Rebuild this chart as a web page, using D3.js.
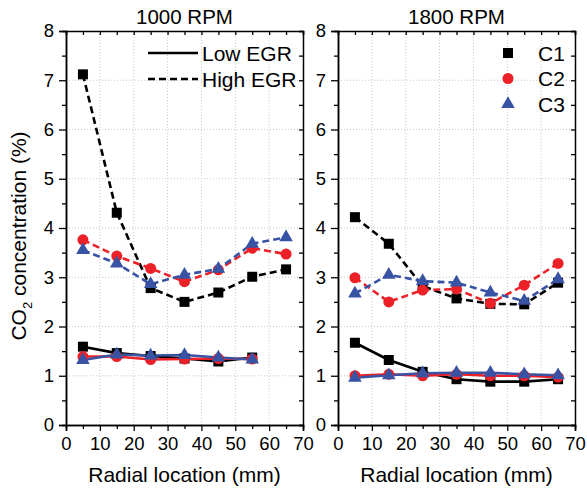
<!DOCTYPE html>
<meta charset="utf-8">
<script src="https://d3js.org/d3.v7.min.js"></script>
<style>
  body { margin: 0; background: #fff; }
  text { font-family: "Liberation Sans", Arial, sans-serif; fill: #000; }
</style>
<div id="chart"></div>
<script>

// radial positions (mm)
const radial = [5, 15, 25, 35, 45, 55, 65];

// 1000 RPM
const rpm1000_high_C1 = [7.12, 4.31, 2.78, 2.50, 2.69, 3.01, 3.16];
const rpm1000_high_C2 = [3.76, 3.43, 3.18, 2.91, 3.15, 3.59, 3.47];
const rpm1000_high_C3 = [3.55, 3.28, 2.86, 3.05, 3.17, 3.68, 3.81];
const rpm1000_low_C1 = [1.59, 1.46, 1.40, 1.35, 1.29, 1.37];
const rpm1000_low_C2 = [1.39, 1.39, 1.33, 1.34, 1.35, 1.34];
const rpm1000_low_C3 = [1.32, 1.43, 1.41, 1.42, 1.37, 1.33];

// 1800 RPM
const rpm1800_high_C1 = [4.22, 3.68, 2.82, 2.57, 2.46, 2.45, 2.89];
const rpm1800_high_C2 = [2.99, 2.50, 2.74, 2.76, 2.47, 2.84, 3.28];
const rpm1800_high_C3 = [2.67, 3.05, 2.92, 2.89, 2.69, 2.52, 2.96];
const rpm1800_low_C1 = [1.67, 1.32, 1.08, 0.93, 0.88, 0.88, 0.93];
const rpm1800_low_C2 = [1.00, 1.03, 1.00, 1.03, 1.00, 1.00, 0.97];
const rpm1800_low_C3 = [0.96, 1.01, 1.05, 1.06, 1.06, 1.03, 1.01];

const panelTitles = ["1000 RPM", "1800 RPM"];
const seriesNames = ["C1", "C2", "C3"];
const egrNames = ["Low EGR", "High EGR"];
const xTicks = [0, 10, 20, 30, 40, 50, 60, 70];
const yTicks = [0, 1, 2, 3, 4, 5, 6, 7, 8];

const colors = {C1: "#000000", C2: "#ec2027", C3: "#3953a4"};

const panels = [
  {title: panelTitles[0], left: 66, data: [
    {s: "C1", egr: "Low", v: rpm1000_low_C1},
    {s: "C2", egr: "Low", v: rpm1000_low_C2},
    {s: "C3", egr: "Low", v: rpm1000_low_C3},
    {s: "C1", egr: "High", v: rpm1000_high_C1},
    {s: "C2", egr: "High", v: rpm1000_high_C2},
    {s: "C3", egr: "High", v: rpm1000_high_C3}]},
  {title: panelTitles[1], left: 338, data: [
    {s: "C1", egr: "Low", v: rpm1800_low_C1},
    {s: "C2", egr: "Low", v: rpm1800_low_C2},
    {s: "C3", egr: "Low", v: rpm1800_low_C3},
    {s: "C1", egr: "High", v: rpm1800_high_C1},
    {s: "C2", egr: "High", v: rpm1800_high_C2},
    {s: "C3", egr: "High", v: rpm1800_high_C3}]}
];

const W = 587, H = 495;
const pw = 237, plotTop = 31, ph = 394;

const svg = d3.select("#chart").append("svg")
    .attr("width", W).attr("height", H);

const y = d3.scaleLinear().domain([0, 8]).range([ph, 0]);
const x = d3.scaleLinear().domain([0, 70]).range([0, pw]);

function marker(g, s, px, py) {
  if (s === "C1") {
    g.append("rect").attr("x", px - 5).attr("y", py - 5)
      .attr("width", 10).attr("height", 10).attr("fill", colors.C1);
  } else if (s === "C2") {
    g.append("circle").attr("cx", px).attr("cy", py).attr("r", 5.5)
      .attr("fill", colors.C2);
  } else {
    g.append("path").attr("transform", `translate(${px},${py})`)
      .attr("d", d3.symbol().type(d3.symbolTriangle).size(80))
      .attr("fill", colors.C3);
  }
}

panels.forEach((p, i) => {
  const g = svg.append("g").attr("transform", `translate(${p.left},${plotTop})`);

  // grid
  g.append("g").selectAll("line").data(xTicks.slice(1, -1)).join("line")
    .attr("x1", d => x(d)).attr("x2", d => x(d)).attr("y1", 0).attr("y2", ph)
    .attr("stroke", "#c8c8c8").attr("stroke-dasharray", "1,2");
  g.append("g").selectAll("line").data(yTicks.slice(1, -1)).join("line")
    .attr("y1", d => y(d)).attr("y2", d => y(d)).attr("x1", 0).attr("x2", pw)
    .attr("stroke", "#c8c8c8").attr("stroke-dasharray", "1,2");

  // axes: major ticks labelled, minor ticks halfway
  const xMinor = d3.range(5, 70, 10);
  const yMinor = d3.range(0.5, 8, 1);
  const tickStyle = sel => {
    sel.selectAll(".domain").attr("stroke", "#000").attr("stroke-width", 1.5);
    sel.selectAll(".tick line").attr("stroke", "#000").attr("stroke-width", 1.3);
    sel.selectAll(".tick text").attr("font-size", 18.5)
      .attr("font-family", "Liberation Sans, Arial, sans-serif");
  };
  g.append("g").attr("transform", `translate(0,${ph})`)
    .call(d3.axisBottom(x).tickValues(xTicks).tickSize(6).tickPadding(6))
    .call(tickStyle);
  g.append("g").attr("transform", `translate(0,${ph})`)
    .call(d3.axisBottom(x).tickValues(xMinor).tickSize(4).tickFormat(""))
    .call(tickStyle);
  g.append("g")
    .call(d3.axisLeft(y).tickValues(yTicks).tickSize(7).tickPadding(5))
    .call(tickStyle);
  g.append("g")
    .call(d3.axisLeft(y).tickValues(yMinor).tickSize(4).tickFormat(""))
    .call(tickStyle);
  g.append("g")
    .call(d3.axisTop(x).tickValues(xTicks.concat(xMinor)).tickSize(-4).tickFormat(""))
    .call(tickStyle);
  g.append("g").attr("transform", `translate(${pw},0)`)
    .call(d3.axisRight(y).tickValues(yTicks.concat(yMinor)).tickSize(-4).tickFormat(""))
    .call(tickStyle);

  // lines and markers
  const line = d3.line().x((d, k) => x(radial[k])).y(d => y(d));
  p.data.forEach(ser => {
    g.append("path").datum(ser.v)
      .attr("d", line).attr("fill", "none")
      .attr("stroke", colors[ser.s]).attr("stroke-width", 2.6)
      .attr("stroke-dasharray", ser.egr === "High" ? "7,4" : null);
  });
  p.data.forEach(ser => {
    ser.v.forEach((d, k) => marker(g, ser.s, x(radial[k]), y(d)));
  });

  // title
  svg.append("text").attr("x", p.left + pw / 2).attr("y", 24)
    .attr("text-anchor", "middle").style("font-size", "20.5px").text(p.title);

  // x label
  svg.append("text").attr("x", p.left + pw / 2).attr("y", 482)
    .attr("text-anchor", "middle").style("font-size", "21px")
    .text("Radial location (mm)");
});

// y label
const yl = svg.append("text")
  .attr("transform", `translate(26,236) rotate(-90)`)
  .attr("text-anchor", "middle").style("font-size", "21px");
yl.append("tspan").text("CO");
yl.append("tspan").attr("dy", 6).style("font-size", "13px").text("2");
yl.append("tspan").attr("dy", -6).text(" concentration (%)");

// legend: EGR line styles (left panel)
const lg = svg.append("g");
egrNames.forEach((name, i) => {
  const ly = 53 + i * 26;
  lg.append("line").attr("x1", 148).attr("x2", 198).attr("y1", ly).attr("y2", ly)
    .attr("stroke", "#000").attr("stroke-width", 2.6)
    .attr("stroke-dasharray", i === 1 ? "7,4" : null);
  lg.append("text").attr("x", 202).attr("y", ly + 7.5)
    .style("font-size", "21px").text(name);
});

// legend: series markers (right panel)
seriesNames.forEach((s, i) => {
  const ly = 53 + i * 25.5;
  marker(lg, s, 508, ly);
  lg.append("text").attr("x", 538).attr("y", ly + 7.5)
    .style("font-size", "21px").text(s);
});
</script>
